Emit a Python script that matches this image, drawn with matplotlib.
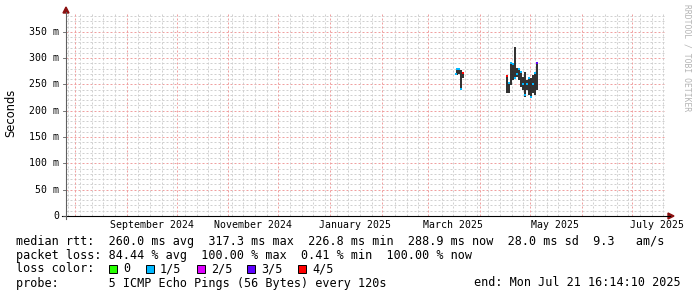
import matplotlib
matplotlib.use('Agg')
import matplotlib.pyplot as plt
import matplotlib.dates as mdates
import pandas as pd
from matplotlib.lines import Line2D
from matplotlib.patches import Polygon, Rectangle

# --- data (ms) ---
dates = ['2025-03-17 16:00', '2025-03-18 06:00', '2025-03-19 11:00', '2025-03-20 16:00',
         '2025-03-21 21:00',
         '2025-04-17 06:00', '2025-04-18 11:00', '2025-04-19 16:00', '2025-04-20 21:00',
         '2025-04-22 02:00', '2025-04-23 06:00', '2025-04-24 11:00', '2025-04-25 16:00',
         '2025-04-26 21:00', '2025-04-28 02:00', '2025-04-29 06:00', '2025-04-30 11:00',
         '2025-05-01 16:00', '2025-05-02 21:00', '2025-05-04 02:00', '2025-05-05 06:00']
lo = [268, 268, 270, 240, 262,
      234, 234, 249, 258, 262, 264, 259, 245, 240, 226, 240, 230, 226, 234, 230, 240]
hi = [272, 281, 281, 277, 273,
      267, 255, 291, 291, 321, 281, 281, 276, 264, 273, 258, 264, 262, 268, 272, 293]
med = [270, 279, 280, 241, 272,
       266, 253, 291, 288, 262, 270, 279, 274, 250, 229, 250, 262, 227, 250, 271, 291]
loss = [1, 1, 1, 1, 4,
        4, 1, 1, 1, 1, 1, 1, 1, 1, 1, 1, 1, 1, 1, 1, 3]

loss_labels = ['0', '1/5', '2/5', '3/5', '4/5']
loss_colors = ['#26ff00', '#00b8ff', '#dd00ff', '#5e00ff', '#ff0000']

yticks = [0, 50, 100, 150, 200, 250, 300, 350]
month_labels = ['September 2024', 'November 2024', 'January 2025', 'March 2025',
                'May 2025', 'July 2025']
month_label_dates = ['2024-09-16', '2024-11-16', '2025-01-16', '2025-03-16',
                     '2025-05-16', '2025-07-16']

start = pd.Timestamp('2024-07-26 16:14:10')
end = pd.Timestamp('2025-07-21 16:14:10')

W, H = 697, 297
MONO = 'DejaVu Sans Mono'


def fx(px):
    return px / W


def fy(py):
    return 1 - py / H


fig = plt.figure(figsize=(W / 100, H / 100), dpi=100)
ax = fig.add_axes([fx(66), fy(216), 600 / W, (216 - 13) / H])
ax.set_xlim(mdates.date2num(start), mdates.date2num(end))
ax.set_ylim(0, 385.7)
ax.axis('off')

# grid, dotted like rrdtool
GRID = '#d0d0d0'
MGRID = '#f0a0a0'
DOTS = (0, (2, 2))
for v in range(10, 390, 10):
    ax.axhline(v, ls=DOTS, lw=0.72, color=MGRID if v % 50 == 0 else GRID, zorder=1)
months = pd.date_range('2024-08-01', end, freq='MS')
for d in pd.date_range(start, end, freq='W-SUN'):
    if min(abs((d.normalize() - m).days) for m in months) > 1:
        ax.axvline(mdates.date2num(d.normalize()), ls=DOTS, lw=0.72, color=GRID, zorder=1)
for d in months:
    ax.axvline(mdates.date2num(d), ls=DOTS, lw=0.72, color=MGRID, zorder=1)

# smoke + median
x = mdates.date2num(pd.to_datetime(dates))
ax.vlines(x, lo, hi, color='#1e1e1e', lw=1.3, zorder=3)
for xi, m, l in zip(x, med, loss):
    ax.plot([xi], [m], marker='s', ms=1.6, mew=0, color=loss_colors[l], zorder=4)

# axes lines with arrows
fig.add_artist(Line2D([fx(62), fx(670)], [fy(216), fy(216)], color='black', lw=0.8))
fig.add_artist(Line2D([fx(66), fx(66)], [fy(219), fy(12)], color='#606060', lw=0.8))
fig.add_artist(Polygon([[fx(668), fy(213)], [fx(674), fy(216)], [fx(668), fy(219)]],
                       closed=True, color='#8b1010', transform=fig.transFigure))
fig.add_artist(Polygon([[fx(63), fy(13)], [fx(66), fy(7)], [fx(69), fy(13)]],
                       closed=True, color='#8b1010', transform=fig.transFigure))

# tick labels
for v in yticks:
    py = 216 - v * 0.5263
    fig.text(fx(59), fy(py), '0' if v == 0 else f'{v} m', ha='right', va='center',
             family=MONO, fontsize=7.1)
    fig.add_artist(Line2D([fx(63), fx(66)], [fy(py), fy(py)], color='#606060', lw=0.6))
for lab, d in zip(month_labels, month_label_dates):
    xd = (pd.Timestamp(d) - start).total_seconds() / 86400 / 0.6 + 66
    fig.text(fx(xd), fy(225), lab, ha='center', va='center', family=MONO, fontsize=7.1)

fig.text(fx(11), fy(113), 'Seconds', rotation=90, ha='center', va='center',
         family='DejaVu Sans', fontsize=8.3)
fig.text(fx(687), fy(4), 'RRDTOOL / TOBI OETIKER', rotation=270, ha='center', va='top',
         family=MONO, fontsize=5.8, color='#b4b4b4')

# legend text
fig.text(fx(16), fy(241), 'median rtt:  260.0 ms avg  317.3 ms max  226.8 ms min  '
         '288.9 ms now  28.0 ms sd  9.3   am/s', va='center', family=MONO, fontsize=8.5)
fig.text(fx(16), fy(255), 'packet loss: 84.44 % avg  100.00 % max  0.41 % min  100.00 % now',
         va='center', family=MONO, fontsize=8.5)
fig.text(fx(16), fy(269), 'loss color:', va='center', family=MONO, fontsize=8.5)
sq_x = [109, 146, 197, 247, 298]
for sx, lab, col in zip(sq_x, loss_labels, loss_colors):
    fig.add_artist(Rectangle((fx(sx), fy(273)), 8 / W, 8 / H, transform=fig.transFigure,
                             facecolor=col, edgecolor='black', lw=0.7))
    fig.text(fx(sx + 14), fy(269), lab, va='center', family=MONO, fontsize=8.5)
fig.text(fx(16), fy(283), 'probe:       5 ICMP Echo Pings (56 Bytes) every 120s',
         va='center', family=MONO, fontsize=8.5)
fig.text(fx(681), fy(283), 'end: Mon Jul 21 16:14:10 2025', ha='right', va='center',
         family=MONO, fontsize=8.5)

fig.savefig('out.png', dpi=100)
